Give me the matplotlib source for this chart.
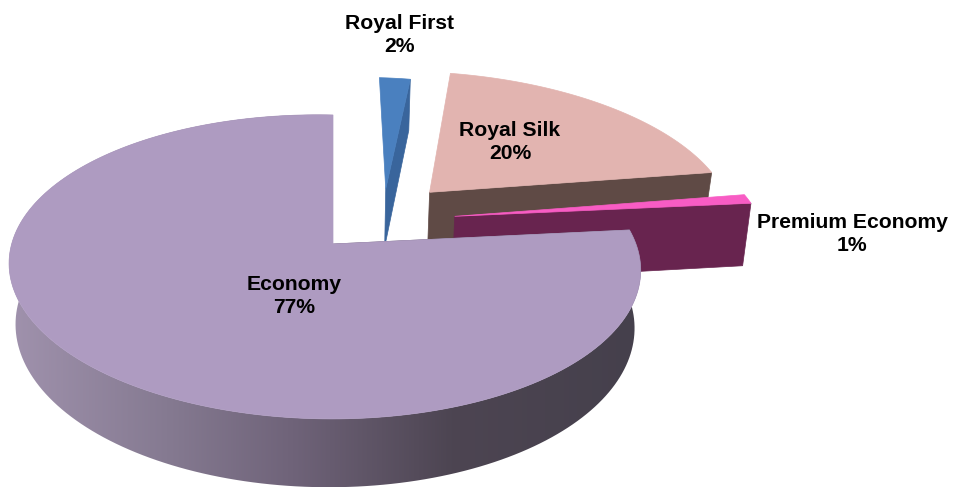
import numpy as np
import matplotlib
matplotlib.use("Agg")
from matplotlib import pyplot as plt
from matplotlib.colors import LinearSegmentedColormap
from matplotlib.patches import Polygon

# cabin class share of passengers, clockwise from 12 o'clock
labels = ["Royal First", "Royal Silk", "Premium Economy", "Economy"]
shares = [2, 20, 1, 77]

top_colors = ["#4a80bf", "#e2b4b0", "#f85cc4", "#ae9bc1"]
side_colors = ["#39659c", "#5f4a45", "#68244f", "#6a5f75"]
# explosion of each slice in pie-plane units (right, up), radius and wall height
offsets = [(0.18, 0.40), (0.33, 0.38), (0.406, 0.205), (0.0, 0.0)]
radii = [0.96, 1.05, 1.06, 1.0]
depths = [62.0, 58.0, 68.0, 58.0]
label_pos = [(400, 35), (510, 142), (852, 234), (294, 296)]

# projection of the tilted pie
X0, Y0 = 333.0, 245.0
R, RB = 312.0, 148.5
K, M = 0.151, 0.0254
TILT = 4.0
SHRINK = 0.98


def project(u, v, depth=0.0):
    u = np.asarray(u, dtype=float)
    v = np.asarray(v, dtype=float)
    w = 1 + K * v + M * u
    x = X0 + R * u / w
    y = Y0 - (RB * v - TILT * u) / w
    if depth:
        x = X0 + (x - X0) * SHRINK
        y = y + depth / w
    return np.column_stack([x, y])


def rim(t1, t2, dx, dy, r, depth=0.0):
    t = np.radians(np.linspace(t1, t2, 200))
    return project(dx + r * np.cos(t), dy + r * np.sin(t), depth)


def cut_face(t, dx, dy, r, depth):
    a = np.radians(t)
    us = np.array([dx, dx + r * np.cos(a)])
    vs = np.array([dy, dy + r * np.sin(a)])
    return np.vstack([project(us, vs), project(us[::-1], vs[::-1], depth)])


fig = plt.figure(figsize=(9.54, 4.89), dpi=100)
ax = fig.add_axes([0, 0, 1, 1])

side_cmap = LinearSegmentedColormap.from_list(
    "rim", [(0, "#a092ad"), (0.25, "#857a91"), (0.45, "#6f6379"),
            (0.7, "#4d4552"), (1, "#45404c")])

start = 90.0
for i, name in enumerate(labels):
    share = shares[i]
    side = side_colors[i]
    top = top_colors[i]
    dx, dy = offsets[i]
    r = radii[i]
    depth = depths[i]
    end = start - share * 3.6
    # later slices sit in front of earlier ones
    base = i * 10 + 1
    if share == max(shares):
        # the large slice shows its first cut and a shaded wall running left to right
        ax.add_patch(Polygon(cut_face(start, dx, dy, r, depth), fc=side, ec=side, lw=0.5, zorder=base))
        wall = np.vstack([rim(start, end, dx, dy, r), rim(end, start, dx, dy, r, depth)])
        patch = Polygon(wall, fc="none", ec="none")
        ax.add_patch(patch)
        xmin, xmax = wall[:, 0].min(), wall[:, 0].max()
        ymin, ymax = wall[:, 1].min(), wall[:, 1].max()
        im = ax.imshow(np.linspace(0, 1, 256).reshape(1, -1), cmap=side_cmap, aspect="auto",
                       extent=(xmin, xmax, ymax, ymin), zorder=base + 1)
        im.set_clip_path(patch)
    else:
        # the small slices only show the cut facing the viewer
        ax.add_patch(Polygon(cut_face(end, dx, dy, r, depth), fc=side, ec=side, lw=0.5, zorder=base))
    face = np.vstack([project(dx, dy).reshape(1, 2), rim(start, end, dx, dy, r)])
    ax.add_patch(Polygon(face, fc=top, ec=top, lw=0.5, zorder=base + 2))
    ax.text(label_pos[i][0], label_pos[i][1], f"{name}\n{share}%", ha="center", va="center",
            color="black", fontsize=15.2, fontweight="bold", family="Liberation Sans",
            linespacing=1.22, zorder=50)
    start = end

ax.set_xlim(0, 954)
ax.set_ylim(489, 0)
ax.axis("off")
fig.savefig("out.png", dpi=100)
